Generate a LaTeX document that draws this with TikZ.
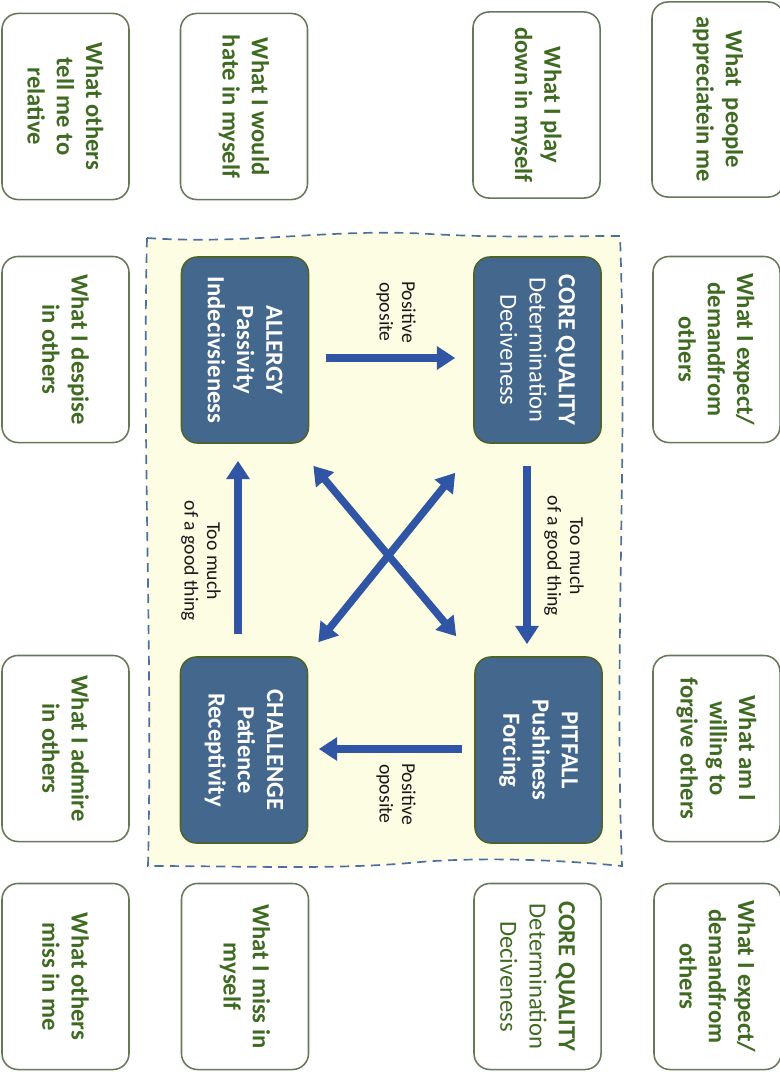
\documentclass[tikz,border=0pt]{standalone}
\usepackage{fontspec}
\setmainfont{Carlito}
\definecolor{cardgreen}{HTML}{3F6A22}
\definecolor{cardline}{HTML}{66775A}
\definecolor{corefill}{HTML}{44678D}
\definecolor{coreline}{HTML}{4F6228}
\definecolor{arrowblue}{HTML}{2F55A4}
\definecolor{zonefill}{HTML}{FDFDE3}
\definecolor{zoneline}{HTML}{4E6EA0}
\usetikzlibrary{arrows.meta}

\begin{document}
\begin{tikzpicture}[x=0.025cm, y=-0.025cm,
    card/.style={draw=cardline, line width=1.1pt, rounded corners=0.4cm, rotate=-90,
                 minimum width=4.65cm, minimum height=3.175cm, align=center,
                 text=cardgreen, font=\fontsize{17.5}{20.8}\selectfont\bfseries},
    quality/.style={draw=coreline, fill=corefill, line width=1.1pt, rounded corners=0.4cm,
                 rotate=-90, minimum width=4.65cm, minimum height=3.175cm, align=center,
                 text=white, font=\fontsize{17.5}{20.8}\selectfont},
    flow/.style={line width=5.3pt, draw=arrowblue, -{Triangle[length=13pt,width=16pt]}},
    dflow/.style={flow, {Triangle[length=13pt,width=16pt]}-{Triangle[length=13pt,width=16pt]}},
    lbl/.style={rotate=-90, align=center, font=\fontsize{14}{16}\selectfont, text=black!90}
  ]
  \useasboundingbox (0,0) rectangle (780,1072);
  \clip (0,0) rectangle (780,1072);

  % dashed zone
  \draw[zoneline, fill=zonefill, line width=1.2pt, dash pattern=on 6.5pt off 4.5pt]
    (147,238) .. controls (250,245) and (330,228) .. (430,234)
    .. controls (500,238) and (560,236) .. (620,236)
    .. controls (628,450) and (614,650) .. (622,866)
    .. controls (540,858) and (470,858) .. (420,862)
    .. controls (340,870) and (250,866) .. (148,866)
    .. controls (153,650) and (142,450) .. cycle;

  % outer cards
  \node[card] (relative) at (65.5,106.5) {What others\\tell me to\\relative};
  \node[card] (hate) at (244,106.5) {What I would\\hate in myself};
  \node[card] (playdown) at (536.5,105) {What I play\\down in myself};
  \node[card, minimum width=4.875cm, minimum height=3.3cm] (appreciate) at (718,99.5)
    {What\ \ people\\appreciatein me};
  \node[card] (despise) at (65.5,349.5) {What I despise\\in others};
  \node[card] (admire) at (65.5,748.5) {What I admire\\in others};
  \node[card] (expect) at (716.5,349.5) {What I expect/\\demandfrom\\others};
  \node[card] (forgive) at (716.5,748.5) {What am I\\willing to\\forgive others};
  \node[card] (missme) at (65.5,976.5) {What others\\miss in me};
  \node[card] (missmyself) at (245,976.5) {What I miss in\\myself};
  \node[card, font=\fontsize{17.5}{20.8}\selectfont] (corecopy) at (537.5,976.5)
    {\textbf{CORE QUALITY}\\Determination\\Deciveness};
  \node[card] (expect2) at (717.5,976.5) {What I expect/\\demandfrom\\others};

  % quadrant
  \node[quality, font=\fontsize{17.5}{20.8}\selectfont\bfseries] (allergy) at (245,350)
    {ALLERGY\\Passivity\\Indecivsieness};
  \node[quality] (core) at (537.5,350) {\textbf{CORE QUALITY}\\Determination\\Deciveness};
  \node[quality, font=\fontsize{17.5}{20.8}\selectfont\bfseries] (pitfall) at (538.5,750)
    {PITFALL\\Pushiness\\Forcing};
  \node[quality, font=\fontsize{17.5}{20.8}\selectfont\bfseries] (challenge) at (244,750)
    {CHALLENGE\\Patience\\Receptivity};

  \draw[flow] ([shift={(17,8)}]allergy.north) -- ([shift={(-18,8)}]core.south);
  \draw[flow] ([shift={(-10.5,22)}]core.east) -- ([shift={(-11.5,-12)}]pitfall.west);
  \draw[flow] ([shift={(-12,-1)}]pitfall.south) -- ([shift={(10.5,-1)}]challenge.north);
  \draw[flow] ([shift={(-6,-22)}]challenge.west) -- ([shift={(-7,17)}]allergy.east);
  \draw[dflow] ([shift={(4,22)}]allergy.north east) -- ([shift={(-18,-20)}]pitfall.south west);
  \draw[dflow] ([shift={(-18,29)}]core.south east) -- ([shift={(10,-14)}]challenge.north west);

  \node[lbl] (topopp) at (396,312) {Positive\\oposite};
  \node[lbl] (rightmuch) at (564,556) {Too much\\of a good thing};
  \node[lbl] (botopp) at (396,794) {Positive\\oposite};
  \node[lbl] (leftmuch) at (201,561) {Too much\\of a good thing};
\end{tikzpicture}
\end{document}
